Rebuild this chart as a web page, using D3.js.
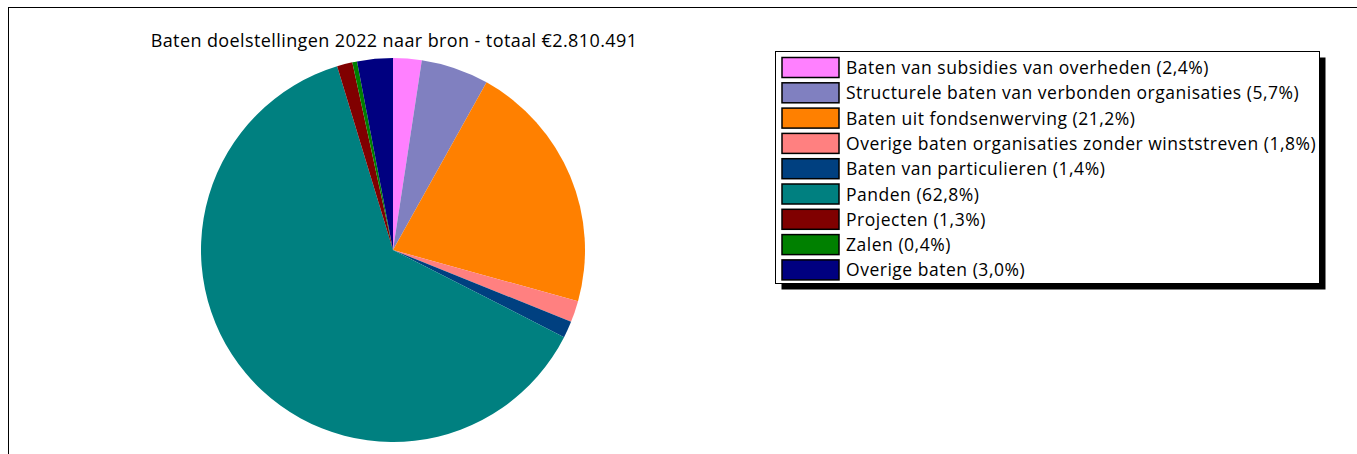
<!DOCTYPE html>
<html>
<head>
<meta charset="utf-8">
<script src="https://cdn.jsdelivr.net/npm/d3@7"></script>
<style>
  body { margin: 0; background: #fff; }
  text { font-family: "Open Sans", Lato, sans-serif; fill: #000; }
</style>
</head>
<body>
<div id="chart"></div>
<script>
// Data
const chartTitle = "Baten doelstellingen 2022 naar bron - totaal €2.810.491";
const categories = [
  "Baten van subsidies van overheden",
  "Structurele baten van verbonden organisaties",
  "Baten uit fondsenwerving",
  "Overige baten organisaties zonder winststreven",
  "Baten van particulieren",
  "Panden",
  "Projecten",
  "Zalen",
  "Overige baten"
];
const percentages = [2.4, 5.7, 21.2, 1.8, 1.4, 62.8, 1.3, 0.4, 3.0];
const colors = ["#ff80ff", "#8080c0", "#ff8000", "#ff8080", "#004080", "#008080", "#800000", "#008000", "#000080"];

const width = 1357, height = 454;

const svg = d3.select("#chart")
    .append("svg")
    .attr("width", width)
    .attr("height", height);

// Frame lines (top and left)
svg.append("line")
    .attr("x1", 8).attr("x2", width)
    .attr("y1", 7.5).attr("y2", 7.5)
    .attr("stroke", "#000");
svg.append("line")
    .attr("x1", 8.5).attr("x2", 8.5)
    .attr("y1", 7).attr("y2", height)
    .attr("stroke", "#000");

// Title
svg.append("text")
    .attr("x", 394)
    .attr("y", 47)
    .attr("text-anchor", "middle")
    .style("font-size", "18px")
    .style("letter-spacing", "0.4px")
    .text(chartTitle);

// Pie
const data = categories.map((c, i) => ({name: c, value: percentages[i], color: colors[i]}));
const pie = d3.pie().value(d => d.value).sort(null);
const arc = d3.arc().innerRadius(0).outerRadius(192);

const pieG = svg.append("g")
    .attr("transform", "translate(393, 250)");

pieG.selectAll("path")
    .data(pie(data))
    .enter()
    .append("path")
    .attr("d", arc)
    .attr("fill", d => d.data.color);

// Legend with drop shadow
const legend = svg.append("g").attr("transform", "translate(775.5, 51.5)");
const legendW = 544, legendH = 232;

legend.append("rect")
    .attr("x", 6).attr("y", 6)
    .attr("width", legendW).attr("height", legendH)
    .attr("fill", "#000");
legend.append("rect")
    .attr("width", legendW).attr("height", legendH)
    .attr("fill", "#fff")
    .attr("stroke", "#000");

const rowH = 25.3;
data.forEach((d, i) => {
  legend.append("rect")
      .attr("x", 6.5)
      .attr("y", 6 + i * rowH)
      .attr("width", 57)
      .attr("height", 20)
      .attr("fill", d.color)
      .attr("stroke", "#000")
      .attr("stroke-width", 1.5);

  legend.append("text")
      .attr("x", 70.5)
      .attr("y", 6 + i * rowH + 16.5)
      .style("font-size", "17.5px")
      .style("letter-spacing", "0.52px")
      .text(`${d.name} (${d3.format(".1f")(d.value).replace(".", ",")}%)`);
});
</script>
</body>
</html>
